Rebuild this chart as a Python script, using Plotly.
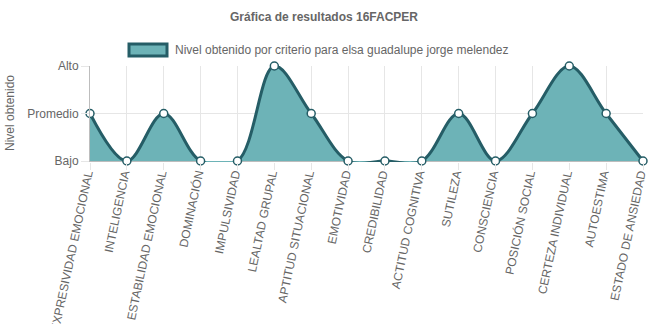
import plotly.graph_objects as go

categories = ["EXPRESIVIDAD EMOCIONAL", "INTELIGENCIA", "ESTABILIDAD EMOCIONAL", "DOMINACIÓN",
              "IMPULSIVIDAD", "LEALTAD GRUPAL", "APTITUD SITUACIONAL", "EMOTIVIDAD",
              "CREDIBILIDAD", "ACTITUD COGNITIVA", "SUTILEZA", "CONSCIENCIA",
              "POSICIÓN SOCIAL", "CERTEZA INDIVIDUAL", "AUTOESTIMA", "ESTADO DE ANSIEDAD"]
values = [1, 0, 1, 0, 0, 2, 1, 0, 0, 0, 1, 0, 1, 2, 1, 0]
level_values = [0, 1, 2]
level_labels = ["Bajo", "Promedio", "Alto"]

series_name = "Nivel obtenido por criterio para elsa guadalupe jorge melendez"
title_text = "Gráfica de resultados 16FACPER"

FILL = "#6db3b7"
LINE = "#255d66"
TXT = "#666666"
FONT = "Liberation Sans, Arial, sans-serif"

W, H = 648, 324
L, R, T, B = 90, 5, 66, 162
pw = W - L - R
ph = H - T - B
y_low = -1.0 / 47.5  # small allowance below "Bajo" so the line there stays visible

fig = go.Figure()
fig.add_trace(go.Scatter(
    x=list(range(len(categories))), y=values,
    mode="lines+markers",
    line=dict(shape="spline", smoothing=1.0, color=LINE, width=3),
    fill="tozeroy", fillcolor=FILL,
    marker=dict(size=8, color="white", line=dict(color=LINE, width=1.5)),
    cliponaxis=False, showlegend=False, name=series_name,
))

def px_x(x):
    return (x - L) / pw

def px_y(y):
    return 1 + (T - y) / ph

fig.update_layout(
    width=W, height=H,
    margin=dict(l=L, r=R, t=T, b=B),
    paper_bgcolor="white", plot_bgcolor="white",
    font=dict(family=FONT, size=12, color=TXT),
    title=dict(text="<b>" + title_text + "</b>", x=0.5, xref="container", xanchor="center",
               y=1 - 17 / H, yref="container", yanchor="middle",
               font=dict(family=FONT, size=12, color=TXT)),
    xaxis=dict(
        range=[0, len(categories) - 1],
        tickmode="array", tickvals=list(range(len(categories))), ticktext=categories,
        tickangle=-78, tickfont=dict(size=12, color=TXT),
        ticklabeloverflow="allow", automargin=False,
        ticklabelstandoff=-8, ticklabelshift=-3,
        showgrid=True, gridcolor="#e6e6e6", gridwidth=1,
        ticks="outside", ticklen=7, tickcolor="#e6e6e6",
        showline=False,
        zeroline=False,
    ),
    yaxis=dict(
        range=[y_low, 2],
        tickmode="array", tickvals=level_values, ticktext=level_labels,
        tickfont=dict(size=12, color=TXT), automargin=False,
        showgrid=True, gridcolor="#e6e6e6", gridwidth=1,
        ticks="outside", ticklen=8, tickcolor="#e6e6e6",
        showline=True, linecolor="#bdbdbd", linewidth=1,
        zeroline=True, zerolinecolor="#bdbdbd", zerolinewidth=1,
    ),
)

# legend (Chart.js style box)
fig.add_shape(type="rect", xref="paper", yref="paper",
              x0=px_x(129), x1=px_x(167), y0=px_y(56), y1=px_y(44),
              fillcolor=FILL, line=dict(color=LINE, width=3), layer="above")
fig.add_annotation(xref="paper", yref="paper", x=px_x(173), y=px_y(50),
                   xanchor="left", yanchor="middle", showarrow=False,
                   text=series_name, font=dict(family=FONT, size=12, color=TXT))
# y-axis title
fig.add_annotation(xref="paper", yref="paper", x=px_x(10), y=px_y(113),
                   xanchor="center", yanchor="middle", showarrow=False, textangle=-90,
                   text="Nivel obtenido", font=dict(family=FONT, size=12, color=TXT))

fig.write_html("out.html")
